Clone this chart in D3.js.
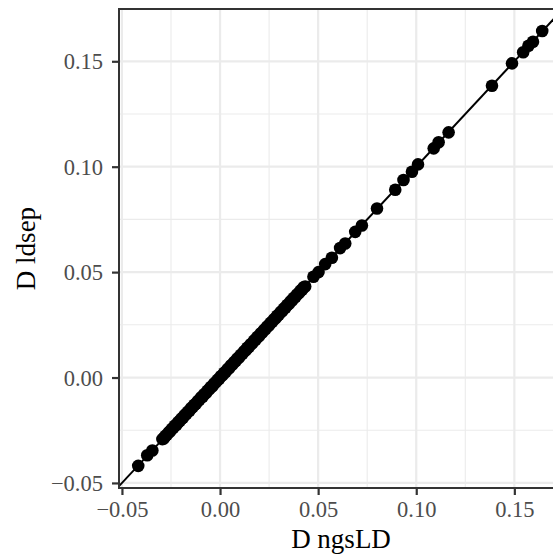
<!DOCTYPE html>
<html>
<head>
<meta charset="utf-8">
<script src="https://cdn.jsdelivr.net/npm/d3@7"></script>
<style>
  html, body { margin: 0; padding: 0; background: #ffffff; }
  svg { display: block; }
</style>
</head>
<body>
<svg id="chart" width="553" height="558"></svg>
<script>
// D estimates for the same SNP pairs from two methods
const ngsldD = [
  -0.0417, -0.0371, -0.0345,
  -0.0294, -0.0287, -0.0279, -0.0271, -0.0262, -0.0255, -0.0246, -0.0238, -0.0231, -0.0222,
  -0.0214, -0.0205, -0.0198, -0.0189, -0.0181, -0.0172, -0.0165, -0.0156, -0.0148, -0.0139,
  -0.0131, -0.0123, -0.0114, -0.0106, -0.0097, -0.0089, -0.0081, -0.0072, -0.0064, -0.0055,
  -0.0047, -0.0039, -0.0030, -0.0022, -0.0013, -0.0005, 0.0004, 0.0012, 0.0021, 0.0029,
  0.0038, 0.0046, 0.0055, 0.0063, 0.0071, 0.0080, 0.0088, 0.0097, 0.0105, 0.0114,
  0.0122, 0.0131, 0.0139, 0.0147, 0.0156, 0.0164, 0.0173, 0.0181, 0.0190, 0.0198,
  0.0207, 0.0215, 0.0223, 0.0232, 0.0240, 0.0249, 0.0257, 0.0266, 0.0274, 0.0283,
  0.0291, 0.0299, 0.0308, 0.0316, 0.0325, 0.0333, 0.0342, 0.0350, 0.0359, 0.0367,
  0.0375, 0.0384, 0.0392, 0.0401, 0.0409, 0.0418, 0.0426, 0.0434,
  0.0476, 0.0502, 0.0536, 0.0570, 0.0612, 0.0638, 0.0689, 0.0723, 0.0800,
  0.0893, 0.0935, 0.0978, 0.1009, 0.1089, 0.1114, 0.1165, 0.1386,
  0.1488, 0.1545, 0.1572, 0.1595, 0.1642
];
const ldsepD = [
  -0.0419, -0.0369, -0.0346,
  -0.0292, -0.0289, -0.0277, -0.0272, -0.0260, -0.0256, -0.0244, -0.0239, -0.0229, -0.0224,
  -0.0212, -0.0206, -0.0196, -0.0191, -0.0179, -0.0173, -0.0163, -0.0158, -0.0146, -0.0140,
  -0.0129, -0.0125, -0.0112, -0.0107, -0.0095, -0.0091, -0.0079, -0.0074, -0.0062, -0.0056,
  -0.0045, -0.0041, -0.0028, -0.0023, -0.0011, -0.0007, 0.0006, 0.0010, 0.0023, 0.0027,
  0.0040, 0.0044, 0.0057, 0.0061, 0.0073, 0.0078, 0.0090, 0.0095, 0.0107, 0.0112,
  0.0124, 0.0129, 0.0141, 0.0145, 0.0158, 0.0162, 0.0175, 0.0179, 0.0192, 0.0196,
  0.0209, 0.0213, 0.0225, 0.0230, 0.0242, 0.0247, 0.0259, 0.0264, 0.0276, 0.0281,
  0.0293, 0.0297, 0.0310, 0.0314, 0.0327, 0.0331, 0.0344, 0.0348, 0.0361, 0.0365,
  0.0377, 0.0382, 0.0394, 0.0399, 0.0411, 0.0416, 0.0428, 0.0432,
  0.0478, 0.0500, 0.0538, 0.0568, 0.0614, 0.0636, 0.0691, 0.0721, 0.0802,
  0.0891, 0.0937, 0.0976, 0.1011, 0.1087, 0.1116, 0.1163, 0.1384,
  0.1490, 0.1543, 0.1574, 0.1593, 0.1644
];

const xTicks = [-0.05, 0.00, 0.05, 0.10, 0.15];
const yTicks = [-0.05, 0.00, 0.05, 0.10, 0.15];
const xMinor = [-0.025, 0.025, 0.075, 0.125];
const yMinor = [-0.025, 0.025, 0.075, 0.125];
const xDomain = [-0.0515, 0.1748];
const yDomain = [-0.0524, 0.1748];
const xTitle = "D ngsLD";
const yTitle = "D ldsep";

const panel = { left: 119, top: 9, right: 563, bottom: 488 };
const svg = d3.select("#chart");
const fmt = v => (v < 0 ? "\u2212" : "") + Math.abs(v).toFixed(2);

const x = d3.scaleLinear().domain(xDomain).range([panel.left, panel.right]);
const y = d3.scaleLinear().domain(yDomain).range([panel.bottom, panel.top]);

svg.append("rect").attr("width", 553).attr("height", 558).attr("fill", "#ffffff");

svg.append("defs").append("clipPath").attr("id", "panel-clip")
  .append("rect")
  .attr("x", panel.left).attr("y", panel.top)
  .attr("width", panel.right - panel.left).attr("height", panel.bottom - panel.top);

const plot = svg.append("g").attr("clip-path", "url(#panel-clip)");

// minor grid
plot.selectAll("line.vminor").data(xMinor).join("line")
  .attr("x1", d => x(d)).attr("x2", d => x(d))
  .attr("y1", panel.top).attr("y2", panel.bottom)
  .attr("stroke", "#ebebeb").attr("stroke-width", 1.1);
plot.selectAll("line.hminor").data(yMinor).join("line")
  .attr("y1", d => y(d)).attr("y2", d => y(d))
  .attr("x1", panel.left).attr("x2", panel.right)
  .attr("stroke", "#ebebeb").attr("stroke-width", 1.1);

// major grid
plot.selectAll("line.vmajor").data(xTicks).join("line")
  .attr("x1", d => x(d)).attr("x2", d => x(d))
  .attr("y1", panel.top).attr("y2", panel.bottom)
  .attr("stroke", "#ebebeb").attr("stroke-width", 2.2);
plot.selectAll("line.hmajor").data(yTicks).join("line")
  .attr("y1", d => y(d)).attr("y2", d => y(d))
  .attr("x1", panel.left).attr("x2", panel.right)
  .attr("stroke", "#ebebeb").attr("stroke-width", 2.2);

// identity line y = x
const lo = Math.min(xDomain[0], yDomain[0]);
const hi = Math.max(xDomain[1], yDomain[1]);
plot.append("line")
  .attr("x1", x(lo)).attr("y1", y(lo))
  .attr("x2", x(hi)).attr("y2", y(hi))
  .attr("stroke", "#000000").attr("stroke-width", 2);

// points
plot.selectAll("circle").data(ngsldD.map((v, i) => [v, ldsepD[i]])).join("circle")
  .attr("cx", d => x(d[0])).attr("cy", d => y(d[1]))
  .attr("r", 6.3).attr("fill", "#000000");

// panel border
svg.append("rect")
  .attr("x", panel.left).attr("y", panel.top)
  .attr("width", panel.right - panel.left).attr("height", panel.bottom - panel.top)
  .attr("fill", "none").attr("stroke", "#333333").attr("stroke-width", 2);

// axes
const axisFont = "'Liberation Serif', 'Times New Roman', serif";
const xAxis = svg.append("g").attr("transform", `translate(0,${panel.bottom})`)
  .call(d3.axisBottom(x).tickValues(xTicks).tickFormat(fmt).tickSize(7).tickSizeOuter(0));
const yAxis = svg.append("g").attr("transform", `translate(${panel.left},0)`)
  .call(d3.axisLeft(y).tickValues(yTicks).tickFormat(fmt).tickSize(7).tickPadding(9).tickSizeOuter(0));

[xAxis, yAxis].forEach(g => {
  g.select(".domain").remove();
  g.selectAll(".tick line").attr("stroke", "#333333").attr("stroke-width", 2.2);
  g.selectAll(".tick text")
    .attr("fill", "#4d4d4d")
    .style("font-family", axisFont)
    .style("font-size", "22.5px");
});
xAxis.selectAll(".tick text").attr("y", 29).attr("dy", 0);
yAxis.selectAll(".tick text").attr("dy", "0.34em");

// axis titles
svg.append("text")
  .attr("x", (panel.left + panel.right) / 2).attr("y", 548)
  .attr("text-anchor", "middle")
  .style("font-family", axisFont).style("font-size", "27px").attr("fill", "#000000")
  .text(xTitle);
svg.append("text")
  .attr("transform", `translate(35,${(panel.top + panel.bottom) / 2}) rotate(-90)`)
  .attr("text-anchor", "middle")
  .style("font-family", axisFont).style("font-size", "27px").attr("fill", "#000000")
  .text(yTitle);
</script>
</body>
</html>
